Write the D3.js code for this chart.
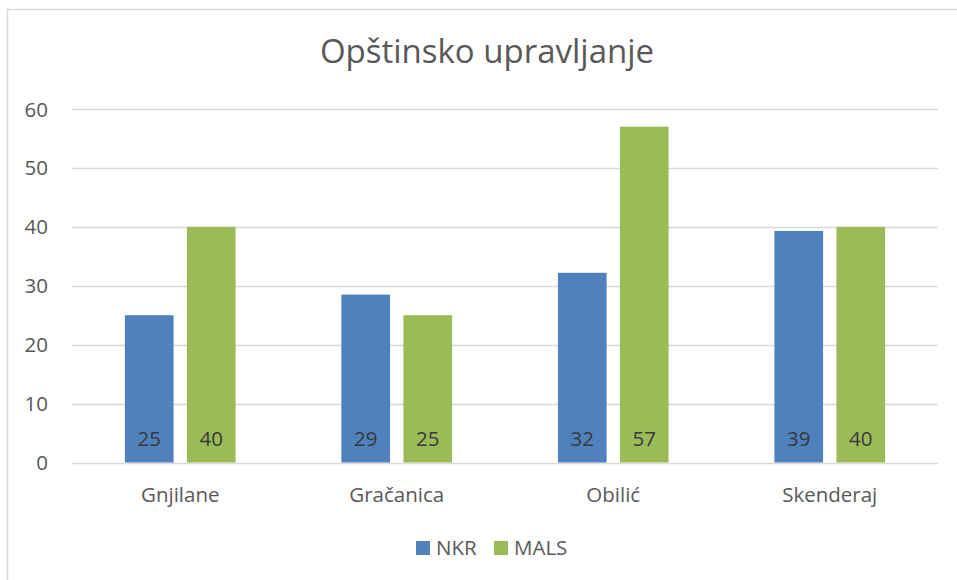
<!DOCTYPE html>
<html>
<head>
<meta charset="utf-8">
<script src="https://cdn.jsdelivr.net/npm/d3@7"></script>
<style>
  body { margin: 0; background: #fff; }
  svg { display: block; font-family: "Open Sans", "Noto Sans", sans-serif; }
</style>
</head>
<body>
<div id="chart"></div>
<script>
const categories = ['Gnjilane', 'Gračanica', 'Obilić', 'Skenderaj'];
const seriesNames = ['NKR', 'MALS'];
const nkrValues = [25, 28.5, 32.2, 39.3];
const malsValues = [40, 25, 57, 40];
const nkrLabels = ['25', '29', '32', '39'];
const malsLabels = ['40', '25', '57', '40'];
const yTicks = [0, 10, 20, 30, 40, 50, 60];

const W = 957, H = 580;
const colors = { NKR: '#4f81bd', MALS: '#9bbb59' };
const textColor = '#595959';
const fs = '20.5px';

const svg = d3.select('#chart').append('svg').attr('width', W).attr('height', H);

// chart frame (right/bottom edges fall outside the crop)
svg.append('rect').attr('x', 7.5).attr('y', 9.5).attr('width', 1000).attr('height', 1000)
  .attr('fill', 'none').attr('stroke', '#d9d9d9').attr('stroke-width', 1.5);

svg.append('text').attr('x', 487).attr('y', 63)
  .attr('text-anchor', 'middle').attr('font-size', '33px').attr('fill', textColor)
  .text('Opštinsko upravljanje');

const x0 = d3.scaleBand().domain(categories).range([72, 938]);
const x1 = d3.scaleBand().domain(seriesNames).range([0, 110.7]).paddingInner(0.215);
const y = d3.scaleLinear().domain([0, 60]).range([462.5, 109]);

const rows = categories.map((c, i) => ({
  cat: c,
  vals: [
    { key: 'NKR', v: nkrValues[i], label: nkrLabels[i] },
    { key: 'MALS', v: malsValues[i], label: malsLabels[i] },
  ],
}));

// gridlines
svg.append('g').selectAll('line').data(yTicks).join('line')
  .attr('x1', 72).attr('x2', 938)
  .attr('y1', d => Math.round(y(d)) + 0.5).attr('y2', d => Math.round(y(d)) + 0.5)
  .attr('stroke', '#d9d9d9').attr('stroke-width', 1.5);

// y tick labels
svg.append('g').selectAll('text').data(yTicks).join('text')
  .attr('x', 48).attr('y', d => y(d) + 7.5)
  .attr('text-anchor', 'end').attr('font-size', fs).attr('fill', textColor)
  .text(d => d);

const groupOffset = (x0.bandwidth() - 110.7) / 2;

const groups = svg.append('g').selectAll('g').data(rows).join('g')
  .attr('transform', d => `translate(${x0(d.cat) + groupOffset},0)`);

groups.selectAll('rect').data(d => d.vals).join('rect')
  .attr('x', d => x1(d.key)).attr('width', x1.bandwidth())
  .attr('y', d => y(d.v)).attr('height', d => y(0) - y(d.v))
  .attr('fill', d => colors[d.key]);

groups.selectAll('text').data(d => d.vals).join('text')
  .attr('x', d => x1(d.key) + x1.bandwidth() / 2).attr('y', 446)
  .attr('text-anchor', 'middle').attr('font-size', fs).attr('fill', '#3a3a3a')
  .text(d => d.label);

// category labels
svg.append('g').selectAll('text').data(categories).join('text')
  .attr('x', d => x0(d) + x0.bandwidth() / 2).attr('y', 502)
  .attr('text-anchor', 'middle').attr('font-size', fs).attr('fill', textColor)
  .text(d => d);

// legend
const legendPos = [{ key: 'NKR', x: 416 }, { key: 'MALS', x: 494 }];
const legend = svg.append('g').selectAll('g').data(legendPos).join('g')
  .attr('transform', d => `translate(${d.x},541)`);
legend.append('rect').attr('width', 14).attr('height', 14).attr('fill', d => colors[d.key]);
legend.append('text').attr('x', 20).attr('y', 14)
  .attr('font-size', fs).attr('fill', textColor).text(d => d.key);
</script>
</body>
</html>
